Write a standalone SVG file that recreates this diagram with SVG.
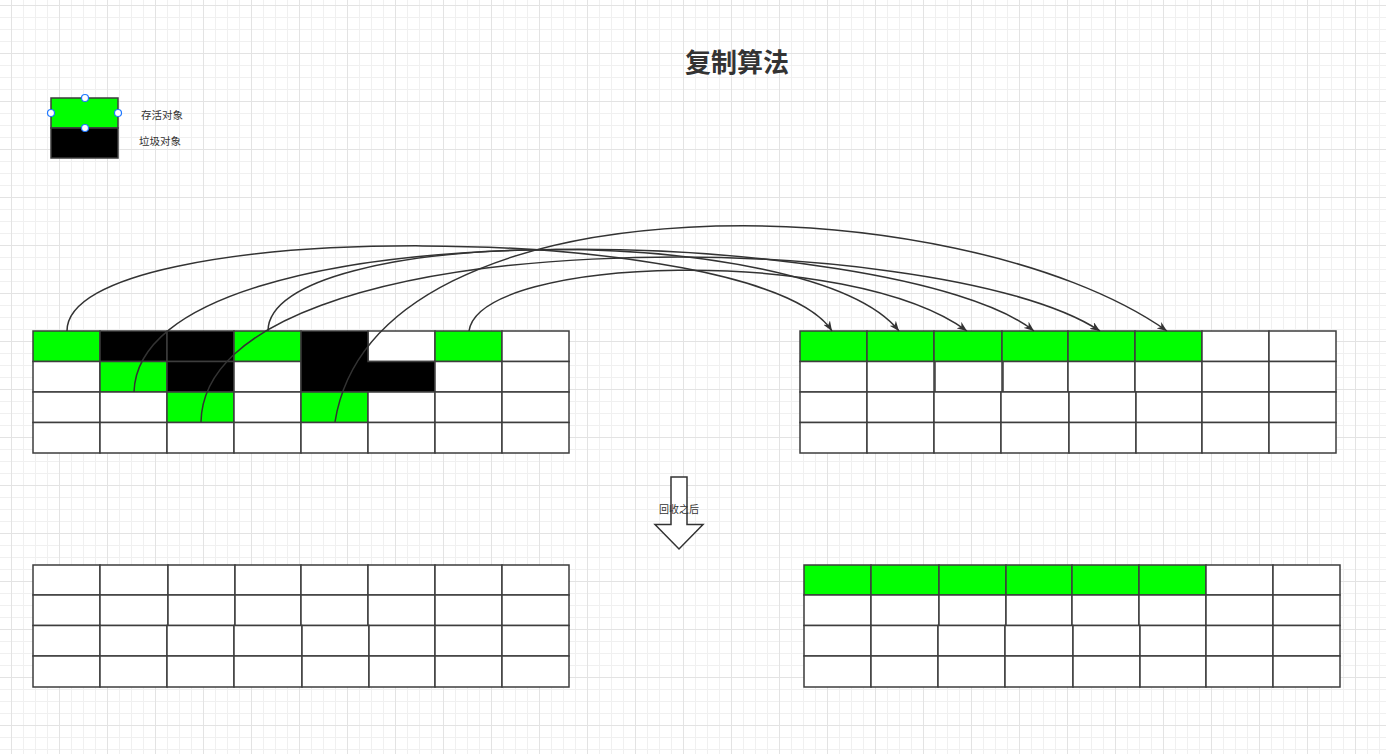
<svg xmlns="http://www.w3.org/2000/svg" width="1386" height="754" viewBox="0 0 1386 754">
<defs>
<pattern id="minor" x="11" y="5" width="12" height="12" patternUnits="userSpaceOnUse"><rect width="1" height="12" fill="#f0f0f0"/><rect width="12" height="1" fill="#f0f0f0"/></pattern>
<pattern id="major" x="11" y="5" width="48" height="48" patternUnits="userSpaceOnUse"><rect width="1" height="48" fill="#e3e3e3"/><rect width="48" height="1" fill="#e3e3e3"/></pattern>
<marker id="arr" viewBox="0 0 10 8" refX="10" refY="4" markerWidth="10" markerHeight="8" markerUnits="userSpaceOnUse" orient="auto"><path d="M0,0 L10,4 L0,8 L3,4 z" fill="#333"/></marker>
<style>
.c rect,.c polygon{stroke:#3d3d3d;stroke-width:1.5}
.w{fill:#fff}.g{fill:#00ff00}.k{fill:#000}
.e{fill:none;stroke:#333;stroke-width:1.5;marker-end:url(#arr)}
.t{font-family:"Liberation Sans","Noto Sans CJK SC",sans-serif;fill:#333;text-anchor:middle}
.h{fill:#fff;stroke:#1f78ff;stroke-width:1.2}
</style>
</defs>
<rect width="1386" height="754" fill="#fff"/>
<rect width="1386" height="754" fill="url(#minor)"/>
<rect width="1386" height="754" fill="url(#major)"/>

<g id="title"><text class="t" x="737" y="72" font-size="26" font-weight="bold">复制算法</text></g>

<g id="legend">
<g id="legend-box" class="c"><rect x="51" y="98" width="67" height="30" class="g"/><rect x="51" y="128" width="67" height="30" class="k"/></g>
<g id="legend-handles"><circle class="h" cx="85" cy="98" r="3.5"/><circle class="h" cx="51" cy="113" r="3.5"/><circle class="h" cx="118" cy="113" r="3.5"/><circle class="h" cx="85" cy="128" r="3.5"/></g>
<g id="legend-live"><text class="t" x="162" y="119" font-size="10.5">存活对象</text></g>
<g id="legend-garbage"><text class="t" x="160" y="145" font-size="10.5">垃圾对象</text></g>
</g>

<g id="grid-before-from" class="c">
<g id="A-r0c0"><rect x="33" y="331" width="67" height="30.5" class="g"/></g>
<g id="A-r0c1"><rect x="100" y="331" width="67" height="30.5" class="k"/></g>
<g id="A-r0c2"><rect x="167" y="331" width="67" height="30.5" class="k"/></g>
<g id="A-r0c3"><rect x="234" y="331" width="67" height="30.5" class="g"/></g>
<g id="A-r0c5"><rect x="368" y="331" width="67" height="30.5" class="w"/></g>
<g id="A-r0c6"><rect x="435" y="331" width="67" height="30.5" class="g"/></g>
<g id="A-r0c7"><rect x="502" y="331" width="67" height="30.5" class="w"/></g>
<g id="A-r1c0"><rect x="33" y="361.5" width="67" height="30.5" class="w"/></g>
<g id="A-r1c1"><rect x="100" y="361.5" width="67" height="30.5" class="g"/></g>
<g id="A-r1c2"><rect x="167" y="361.5" width="67" height="30.5" class="k"/></g>
<g id="A-r1c3"><rect x="234" y="361.5" width="67" height="30.5" class="w"/></g>
<g id="A-garbage-L"><polygon points="301,331 368,331 368,361.5 435,361.5 435,392 301,392" class="k"/></g>
<g id="A-r1c6"><rect x="435" y="361.5" width="67" height="30.5" class="w"/></g>
<g id="A-r1c7"><rect x="502" y="361.5" width="67" height="30.5" class="w"/></g>
<g id="A-r2c0"><rect x="33" y="392" width="67" height="30.5" class="w"/></g>
<g id="A-r2c1"><rect x="100" y="392" width="67" height="30.5" class="w"/></g>
<g id="A-r2c2"><rect x="167" y="392" width="67" height="30.5" class="g"/></g>
<g id="A-r2c3"><rect x="234" y="392" width="67" height="30.5" class="w"/></g>
<g id="A-r2c4"><rect x="301" y="392" width="67" height="30.5" class="g"/></g>
<g id="A-r2c5"><rect x="368" y="392" width="67" height="30.5" class="w"/></g>
<g id="A-r2c6"><rect x="435" y="392" width="67" height="30.5" class="w"/></g>
<g id="A-r2c7"><rect x="502" y="392" width="67" height="30.5" class="w"/></g>
<g id="A-r3c0"><rect x="33" y="422.5" width="67" height="30.5" class="w"/></g>
<g id="A-r3c1"><rect x="100" y="422.5" width="67" height="30.5" class="w"/></g>
<g id="A-r3c2"><rect x="167" y="422.5" width="67" height="30.5" class="w"/></g>
<g id="A-r3c3"><rect x="234" y="422.5" width="67" height="30.5" class="w"/></g>
<g id="A-r3c4"><rect x="301" y="422.5" width="67" height="30.5" class="w"/></g>
<g id="A-r3c5"><rect x="368" y="422.5" width="67" height="30.5" class="w"/></g>
<g id="A-r3c6"><rect x="435" y="422.5" width="67" height="30.5" class="w"/></g>
<g id="A-r3c7"><rect x="502" y="422.5" width="67" height="30.5" class="w"/></g>
</g>

<g id="grid-before-to" class="c">
<g id="B-r0c0"><rect x="800" y="331" width="67" height="30.5" class="g"/></g>
<g id="B-r0c1"><rect x="867" y="331" width="67" height="30.5" class="g"/></g>
<g id="B-r0c2"><rect x="934" y="331" width="68" height="30.5" class="g"/></g>
<g id="B-r0c3"><rect x="1002" y="331" width="66" height="30.5" class="g"/></g>
<g id="B-r0c4"><rect x="1068" y="331" width="67" height="30.5" class="g"/></g>
<g id="B-r0c5"><rect x="1135" y="331" width="67" height="30.5" class="g"/></g>
<g id="B-r0c6"><rect x="1202" y="331" width="67" height="30.5" class="w"/></g>
<g id="B-r0c7"><rect x="1269" y="331" width="67" height="30.5" class="w"/></g>
<g id="B-r1c0"><rect x="800" y="361.5" width="67" height="30.5" class="w"/></g>
<g id="B-r1c1"><rect x="867" y="361.5" width="67" height="30.5" class="w"/></g>
<g id="B-r1c2"><rect x="935" y="361.5" width="67" height="30.5" class="w"/></g>
<g id="B-r1c3"><rect x="1003" y="361.5" width="65" height="30.5" class="w"/></g>
<g id="B-r1c4"><rect x="1068" y="361.5" width="67" height="30.5" class="w"/></g>
<g id="B-r1c5"><rect x="1135" y="361.5" width="67" height="30.5" class="w"/></g>
<g id="B-r1c6"><rect x="1202" y="361.5" width="67" height="30.5" class="w"/></g>
<g id="B-r1c7"><rect x="1269" y="361.5" width="67" height="30.5" class="w"/></g>
<g id="B-r2c0"><rect x="800" y="392" width="67" height="30.5" class="w"/></g>
<g id="B-r2c1"><rect x="867" y="392" width="67" height="30.5" class="w"/></g>
<g id="B-r2c2"><rect x="934" y="392" width="67" height="30.5" class="w"/></g>
<g id="B-r2c3"><rect x="1001" y="392" width="68" height="30.5" class="w"/></g>
<g id="B-r2c4"><rect x="1069" y="392" width="67" height="30.5" class="w"/></g>
<g id="B-r2c5"><rect x="1136" y="392" width="66" height="30.5" class="w"/></g>
<g id="B-r2c6"><rect x="1202" y="392" width="67" height="30.5" class="w"/></g>
<g id="B-r2c7"><rect x="1269" y="392" width="67" height="30.5" class="w"/></g>
<g id="B-r3c0"><rect x="800" y="422.5" width="67" height="30.5" class="w"/></g>
<g id="B-r3c1"><rect x="867" y="422.5" width="67" height="30.5" class="w"/></g>
<g id="B-r3c2"><rect x="934" y="422.5" width="67" height="30.5" class="w"/></g>
<g id="B-r3c3"><rect x="1001" y="422.5" width="68" height="30.5" class="w"/></g>
<g id="B-r3c4"><rect x="1069" y="422.5" width="67" height="30.5" class="w"/></g>
<g id="B-r3c5"><rect x="1136" y="422.5" width="66" height="30.5" class="w"/></g>
<g id="B-r3c6"><rect x="1202" y="422.5" width="67" height="30.5" class="w"/></g>
<g id="B-r3c7"><rect x="1269" y="422.5" width="67" height="30.5" class="w"/></g>
</g>

<g id="after-arrow">
<polygon points="671,477 687,477 687,524.5 703,524.5 679,549 655,524.5 671,524.5" fill="#fff" stroke="#333" stroke-width="1.5"/>
<text class="t" x="679" y="513" font-size="10">回收之后</text>
</g>

<g id="grid-after-from" class="c">
<g id="C-r0c0"><rect x="33" y="565" width="67" height="30" class="w"/></g>
<g id="C-r0c1"><rect x="100" y="565" width="68" height="30" class="w"/></g>
<g id="C-r0c2"><rect x="168" y="565" width="67" height="30" class="w"/></g>
<g id="C-r0c3"><rect x="235" y="565" width="66" height="30" class="w"/></g>
<g id="C-r0c4"><rect x="301" y="565" width="67" height="30" class="w"/></g>
<g id="C-r0c5"><rect x="368" y="565" width="67" height="30" class="w"/></g>
<g id="C-r0c6"><rect x="435" y="565" width="67" height="30" class="w"/></g>
<g id="C-r0c7"><rect x="502" y="565" width="67" height="30" class="w"/></g>
<g id="C-r1c0"><rect x="33" y="595" width="67" height="30.5" class="w"/></g>
<g id="C-r1c1"><rect x="100" y="595" width="68" height="30.5" class="w"/></g>
<g id="C-r1c2"><rect x="168" y="595" width="67" height="30.5" class="w"/></g>
<g id="C-r1c3"><rect x="235" y="595" width="66" height="30.5" class="w"/></g>
<g id="C-r1c4"><rect x="301" y="595" width="67" height="30.5" class="w"/></g>
<g id="C-r1c5"><rect x="368" y="595" width="67" height="30.5" class="w"/></g>
<g id="C-r1c6"><rect x="435" y="595" width="67" height="30.5" class="w"/></g>
<g id="C-r1c7"><rect x="502" y="595" width="67" height="30.5" class="w"/></g>
<g id="C-r2c0"><rect x="33" y="625.5" width="67" height="30.5" class="w"/></g>
<g id="C-r2c1"><rect x="100" y="625.5" width="67" height="30.5" class="w"/></g>
<g id="C-r2c2"><rect x="167" y="625.5" width="67" height="30.5" class="w"/></g>
<g id="C-r2c3"><rect x="234" y="625.5" width="68" height="30.5" class="w"/></g>
<g id="C-r2c4"><rect x="302" y="625.5" width="67" height="30.5" class="w"/></g>
<g id="C-r2c5"><rect x="369" y="625.5" width="66" height="30.5" class="w"/></g>
<g id="C-r2c6"><rect x="435" y="625.5" width="67" height="30.5" class="w"/></g>
<g id="C-r2c7"><rect x="502" y="625.5" width="67" height="30.5" class="w"/></g>
<g id="C-r3c0"><rect x="33" y="656" width="67" height="31" class="w"/></g>
<g id="C-r3c1"><rect x="100" y="656" width="67" height="31" class="w"/></g>
<g id="C-r3c2"><rect x="167" y="656" width="67" height="31" class="w"/></g>
<g id="C-r3c3"><rect x="234" y="656" width="68" height="31" class="w"/></g>
<g id="C-r3c4"><rect x="302" y="656" width="67" height="31" class="w"/></g>
<g id="C-r3c5"><rect x="369" y="656" width="66" height="31" class="w"/></g>
<g id="C-r3c6"><rect x="435" y="656" width="67" height="31" class="w"/></g>
<g id="C-r3c7"><rect x="502" y="656" width="67" height="31" class="w"/></g>
</g>

<g id="grid-after-to" class="c">
<g id="D-r0c0"><rect x="804" y="565" width="67" height="30" class="g"/></g>
<g id="D-r0c1"><rect x="871" y="565" width="68" height="30" class="g"/></g>
<g id="D-r0c2"><rect x="939" y="565" width="67" height="30" class="g"/></g>
<g id="D-r0c3"><rect x="1006" y="565" width="66" height="30" class="g"/></g>
<g id="D-r0c4"><rect x="1072" y="565" width="67" height="30" class="g"/></g>
<g id="D-r0c5"><rect x="1139" y="565" width="67" height="30" class="g"/></g>
<g id="D-r0c6"><rect x="1206" y="565" width="67" height="30" class="w"/></g>
<g id="D-r0c7"><rect x="1273" y="565" width="67" height="30" class="w"/></g>
<g id="D-r1c0"><rect x="804" y="595" width="67" height="30.5" class="w"/></g>
<g id="D-r1c1"><rect x="871" y="595" width="68" height="30.5" class="w"/></g>
<g id="D-r1c2"><rect x="939" y="595" width="67" height="30.5" class="w"/></g>
<g id="D-r1c3"><rect x="1006" y="595" width="66" height="30.5" class="w"/></g>
<g id="D-r1c4"><rect x="1072" y="595" width="67" height="30.5" class="w"/></g>
<g id="D-r1c5"><rect x="1139" y="595" width="67" height="30.5" class="w"/></g>
<g id="D-r1c6"><rect x="1206" y="595" width="67" height="30.5" class="w"/></g>
<g id="D-r1c7"><rect x="1273" y="595" width="67" height="30.5" class="w"/></g>
<g id="D-r2c0"><rect x="804" y="625.5" width="67" height="30.5" class="w"/></g>
<g id="D-r2c1"><rect x="871" y="625.5" width="67" height="30.5" class="w"/></g>
<g id="D-r2c2"><rect x="938" y="625.5" width="67" height="30.5" class="w"/></g>
<g id="D-r2c3"><rect x="1005" y="625.5" width="68" height="30.5" class="w"/></g>
<g id="D-r2c4"><rect x="1073" y="625.5" width="67" height="30.5" class="w"/></g>
<g id="D-r2c5"><rect x="1140" y="625.5" width="66" height="30.5" class="w"/></g>
<g id="D-r2c6"><rect x="1206" y="625.5" width="67" height="30.5" class="w"/></g>
<g id="D-r2c7"><rect x="1273" y="625.5" width="67" height="30.5" class="w"/></g>
<g id="D-r3c0"><rect x="804" y="656" width="67" height="31" class="w"/></g>
<g id="D-r3c1"><rect x="871" y="656" width="67" height="31" class="w"/></g>
<g id="D-r3c2"><rect x="938" y="656" width="67" height="31" class="w"/></g>
<g id="D-r3c3"><rect x="1005" y="656" width="68" height="31" class="w"/></g>
<g id="D-r3c4"><rect x="1073" y="656" width="67" height="31" class="w"/></g>
<g id="D-r3c5"><rect x="1140" y="656" width="66" height="31" class="w"/></g>
<g id="D-r3c6"><rect x="1206" y="656" width="67" height="31" class="w"/></g>
<g id="D-r3c7"><rect x="1273" y="656" width="67" height="31" class="w"/></g>
</g>

<g id="connectors">
<path class="e" d="M67,331 C67,215 760,220 832,331"/>
<path class="e" d="M268,331 C268,225 810,220 899,331"/>
<path class="e" d="M469,331 C480,255 850,245 967,331"/>
<path class="e" d="M134,392 C140,200 900,225 1034,331"/>
<path class="e" d="M201,422 C205,215 940,225 1100,331"/>
<path class="e" d="M335,422 C375,170 960,185 1167,331"/>
</g>
</svg>
